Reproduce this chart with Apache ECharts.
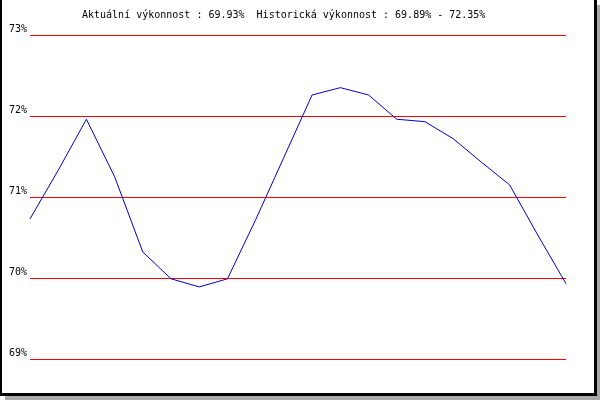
<!DOCTYPE html>
<html>
<head>
<meta charset="utf-8">
<script src="https://cdn.jsdelivr.net/npm/echarts@6/dist/echarts.min.js"></script>
<style>html,body{margin:0;padding:0;background:#fff}#c{width:600px;height:400px}</style>
</head>
<body>
<div id="c"></div>
<script>
const categories = ['1','2','3','4','5','6','7','8','9','10','11','12','13','14','15','16','17','18','19','20'];
const values = [70.73, 71.33, 71.96, 71.25, 70.32, 69.99, 69.89, 69.99, 70.72, 71.49, 72.26, 72.35, 72.26, 71.96, 71.93, 71.72, 71.43, 71.15, 70.53, 69.93];
const yTicks = [69, 70, 71, 72, 73];
const titleText = 'Aktuální výkonnost : 69.93%  Historická výkonnost : 69.89% - 72.35%';

const chart = echarts.init(document.getElementById('c'), null, {renderer: 'canvas'});
const mono = 'DejaVu Sans Mono';
chart.setOption({
  animation: false,
  backgroundColor: '#ffffff',
  title: {
    text: titleText,
    left: 82, top: 10, padding: 0,
    textStyle: {fontFamily: mono, fontSize: 10, fontWeight: 'normal', color: '#000'}
  },
  graphic: [
    {type: 'rect', z: -10, shape: {x: 5, y: 396, width: 595, height: 4}, style: {fill: '#a8a8a8'}},
    {type: 'rect', z: -10, shape: {x: 597, y: 5, width: 3, height: 395}, style: {fill: '#a8a8a8'}},
    {type: 'rect', z: -10, shape: {x: 0, y: 0, width: 2, height: 396}, style: {fill: '#000'}},
    {type: 'rect', z: -10, shape: {x: 594, y: 0, width: 3, height: 396}, style: {fill: '#000'}},
    {type: 'rect', z: -10, shape: {x: 0, y: 393, width: 597, height: 3}, style: {fill: '#000'}}
  ],
  grid: {left: 30, right: 34, top: 35, bottom: 41, containLabel: false},
  xAxis: {
    type: 'category', data: categories, boundaryGap: false,
    axisLine: {show: false}, axisTick: {show: false}, axisLabel: {show: false}, splitLine: {show: false}
  },
  yAxis: {
    type: 'value', min: yTicks[0], max: yTicks[yTicks.length - 1], interval: 1,
    axisLine: {show: false}, axisTick: {show: false},
    axisLabel: {
      formatter: '{value}%', fontFamily: mono, fontSize: 10, color: '#000',
      margin: 3, verticalAlign: 'bottom', padding: [0, 0, 1, 0]
    },
    splitLine: {show: true, lineStyle: {color: '#ff0000', width: 1}}
  },
  series: [{
    type: 'line', data: values, showSymbol: false, symbol: 'none',
    lineStyle: {color: '#0000cc', width: 1}
  }]
});
</script>
</body>
</html>
